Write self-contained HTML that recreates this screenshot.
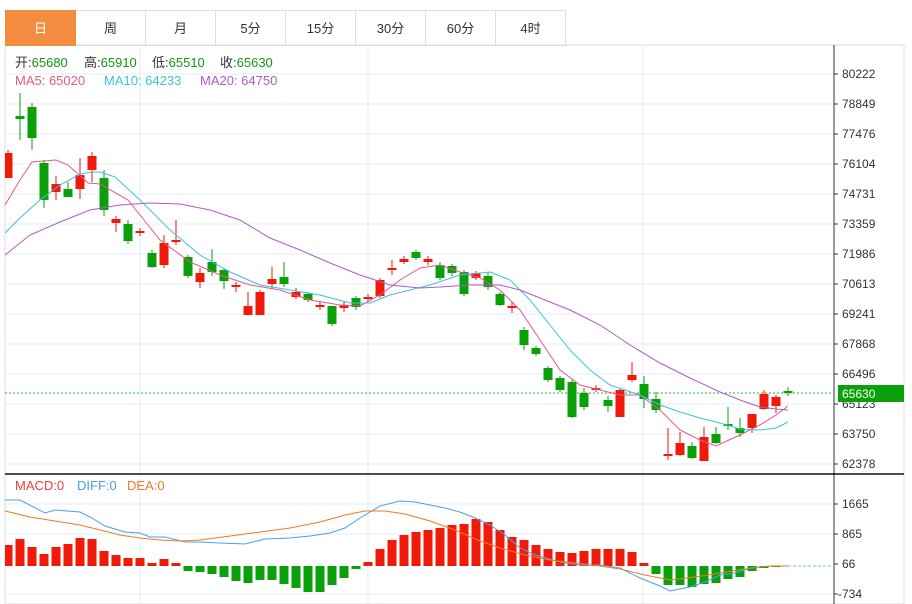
<!DOCTYPE html>
<html><head><meta charset="utf-8"><style>
body{margin:0;background:#fff;width:912px;height:604px;overflow:hidden;font-family:"Liberation Sans","Noto Sans CJK SC",sans-serif}
.tabs{position:absolute;left:5px;top:10px;height:35px;display:flex}
.tabs div{width:69px;height:34px;border:1px solid #ddd;border-left:none;text-align:center;line-height:35px;font-size:13px;color:#333}
.tabs div:first-child{background:#f28c3e;color:#fff;border:1px solid #f28c3e}
</style></head><body>
<div class="tabs"><div>日</div><div>周</div><div>月</div><div>5分</div><div>15分</div><div>30分</div><div>60分</div><div>4时</div></div>
<svg width="912" height="604" style="position:absolute;left:0;top:0;z-index:-1" font-family="Liberation Sans, Noto Sans CJK SC, sans-serif">
<rect x="5" y="45" width="899" height="559" fill="none" stroke="#ddd"/>
<g stroke="#e3ecf4">
<line x1="5" x2="834" y1="74" y2="74"/><line x1="5" x2="834" y1="104" y2="104"/><line x1="5" x2="834" y1="134" y2="134"/><line x1="5" x2="834" y1="164" y2="164"/><line x1="5" x2="834" y1="194" y2="194"/><line x1="5" x2="834" y1="224" y2="224"/><line x1="5" x2="834" y1="254" y2="254"/><line x1="5" x2="834" y1="284" y2="284"/><line x1="5" x2="834" y1="314" y2="314"/><line x1="5" x2="834" y1="344" y2="344"/><line x1="5" x2="834" y1="374" y2="374"/><line x1="5" x2="834" y1="404" y2="404"/><line x1="5" x2="834" y1="434" y2="434"/><line x1="5" x2="834" y1="464" y2="464"/>
<line x1="5" x2="834" y1="504" y2="504"/><line x1="5" x2="834" y1="534" y2="534"/><line x1="5" x2="834" y1="594" y2="594"/>
<line x1="140" x2="140" y1="45" y2="604"/><line x1="368" x2="368" y1="45" y2="604"/><line x1="643" x2="643" y1="45" y2="604"/>
</g>
<line x1="834" x2="834" y1="45" y2="604" stroke="#333"/>
<line x1="5" x2="904" y1="474" y2="474" stroke="#111" stroke-width="1.5"/>
<g font-size="12" fill="#333">
<text x="842" y="78">80222</text><text x="842" y="108">78849</text><text x="842" y="138">77476</text><text x="842" y="168">76104</text><text x="842" y="198">74731</text><text x="842" y="228">73359</text><text x="842" y="258">71986</text><text x="842" y="288">70613</text><text x="842" y="318">69241</text><text x="842" y="348">67868</text><text x="842" y="378">66496</text><text x="842" y="408">65123</text><text x="842" y="438">63750</text><text x="842" y="468">62378</text>
<text x="842" y="508">1665</text><text x="842" y="538">865</text><text x="842" y="568">66</text><text x="838" y="598">-734</text>
</g>
<g stroke="#333"><line x1="834" x2="838" y1="74" y2="74"/><line x1="834" x2="838" y1="104" y2="104"/><line x1="834" x2="838" y1="134" y2="134"/><line x1="834" x2="838" y1="164" y2="164"/><line x1="834" x2="838" y1="194" y2="194"/><line x1="834" x2="838" y1="224" y2="224"/><line x1="834" x2="838" y1="254" y2="254"/><line x1="834" x2="838" y1="284" y2="284"/><line x1="834" x2="838" y1="314" y2="314"/><line x1="834" x2="838" y1="344" y2="344"/><line x1="834" x2="838" y1="374" y2="374"/><line x1="834" x2="838" y1="404" y2="404"/><line x1="834" x2="838" y1="434" y2="434"/><line x1="834" x2="838" y1="464" y2="464"/><line x1="834" x2="838" y1="504" y2="504"/><line x1="834" x2="838" y1="534" y2="534"/><line x1="834" x2="838" y1="564" y2="564"/><line x1="834" x2="838" y1="594" y2="594"/></g>
<line x1="5" x2="834" y1="393" y2="393" stroke="#2bb52b" stroke-dasharray="2,2"/>
<rect x="838" y="385" width="66" height="17" fill="#0aa00a"/><text x="842" y="398" font-size="12" fill="#fff">65630</text>
<line x1="788" x2="834" y1="566" y2="566" stroke="#6bc3e8" stroke-dasharray="3,2"/>
<g font-size="13">
<text x="15" y="67" fill="#333">开:<tspan fill="#119911">65680</tspan></text>
<text x="84" y="67" fill="#333">高:<tspan fill="#119911">65910</tspan></text>
<text x="152" y="67" fill="#333">低:<tspan fill="#119911">65510</tspan></text>
<text x="220" y="67" fill="#333">收:<tspan fill="#119911">65630</tspan></text>
<text x="15" y="85" fill="#e8578a">MA5: 65020</text>
<text x="104" y="85" fill="#3cc3da">MA10: 64233</text>
<text x="200" y="85" fill="#b05ac8">MA20: 64750</text>
<text x="15" y="490" fill="#e84040">MACD:0</text>
<text x="77" y="490" fill="#4aa0ee">DIFF:0</text>
<text x="127" y="490" fill="#f07a20">DEA:0</text>
</g>
<g id="c"></g>
<polyline fill="none" stroke="#e8578a" stroke-width="1" points="5,205 20,180 32,162 56,160 68,165 88,183 100,184 128,200 140,215 160,240 190,262 220,275 250,285 280,290 310,300 340,305 360,306 380,295 400,280 420,268 440,265 460,272 480,278 500,290 520,310 540,340 560,370 580,385 600,390 620,395 640,395 660,410 680,430 700,440 716,446 740,435 760,425 776,415 788,406"/>
<polyline fill="none" stroke="#3cc3da" stroke-width="1" points="5,233 20,218 40,200 60,185 80,174 92,172 100,172 115,177 140,200 170,230 200,255 230,272 260,285 290,290 320,295 350,303 370,303 390,295 410,290 430,285 460,275 490,272 510,280 530,300 550,325 570,350 590,370 610,385 640,395 660,405 680,412 700,418 720,423 740,429 760,430 776,428 788,422"/>
<polyline fill="none" stroke="#b05ac8" stroke-width="1" points="5,255 30,235 60,222 90,210 120,205 150,203 180,204 210,210 240,220 270,238 300,250 330,263 360,275 390,285 420,288 440,287 470,285 500,285 520,290 540,298 570,310 600,325 630,345 660,363 690,378 720,392 740,400 760,407 776,409 788,410"/>
<g id="m"></g>
<polyline fill="none" stroke="#4aa0ee" points="5,500 20,500 45,513 55,510 80,512 92,518 105,526 125,532 140,533 150,537 165,537 185,542 200,542 220,543 245,544 265,539 290,538 310,536 330,533 345,528 360,518 380,506 400,501 415,502 430,505 445,508 460,512 475,518 490,525 505,535 520,548 535,555 560,562 580,565 600,565 620,568 640,578 660,586 670,591 690,587 705,582 720,575 735,573 750,568 770,566 788,566"/>
<polyline fill="none" stroke="#f07a20" points="5,511 30,517 55,521 80,525 100,530 120,535 140,538 160,540 180,541 200,540 230,536 260,532 290,528 320,522 345,515 365,511 385,511 405,514 430,521 455,530 480,541 500,548 525,555 550,560 575,563 600,566 620,569 645,575 670,580 695,577 720,573 745,569 770,566 788,566"/>
</svg>
<script>
var R="#f01a0a",G="#0aa00a";
var d=[[8,153,178,150,178,R],[20,116,119,93,140,G],[32,107,138,103,150,G],[44,163,200,160,208,G],[56,184,192,176,200,R],[68,189,197,182,197,G],[80,175,189,158,199,R],[92,156,170,152,182,R],[104,178,210,170,216,G],[116,219,223,216,232,R],[128,224,241,220,244,G],[140,231,233,228,236,R],[152,253,267,250,268,G],[164,243,265,235,268,R],[176,240,242,220,245,R],[188,257,276,255,278,G],[200,273,282,268,288,R],[212,262,272,249,276,G],[224,270,281,268,289,G],[236,285,287,282,292,R],[248,306,315,292,315,R],[260,292,315,290,315,R],[272,279,284,267,289,R],[284,277,284,262,287,G],[296,292,297,288,299,R],[308,294,300,292,302,G],[320,305,307,302,310,R],[332,306,324,306,326,G],[344,305,308,302,312,R],[356,298,307,296,310,G],[368,297,299,294,302,R],[380,280,296,278,298,R],[392,268,270,260,275,R],[404,259,262,256,264,R],[416,252,258,250,260,G],[428,259,262,256,265,R],[440,265,278,262,280,G],[452,266,273,264,276,G],[464,272,294,270,296,G],[476,273,278,271,280,R],[488,276,287,272,290,G],[500,294,305,292,306,G],[512,306,308,302,313,R],[524,330,345,327,350,G],[536,348,354,346,356,G],[548,368,380,366,382,G],[560,378,390,376,392,G],[572,382,417,380,418,G],[584,393,407,388,410,G],[596,388,390,385,392,R],[608,400,406,396,412,G],[620,390,417,388,417,R],[632,375,380,362,382,R],[644,384,399,376,408,G],[656,399,410,392,413,G],[668,454,456,428,460,R],[680,443,455,432,456,R],[692,446,458,442,459,G],[704,437,461,427,461,R],[716,434,443,427,444,G],[728,424,426,407,430,G],[740,428,433,418,437,G],[752,414,428,414,433,R],[764,394,409,390,410,R],[776,397,406,395,413,R],[788,391,393,387,396,G]];
var h="";
d.forEach(function(a){var x=a[0],bx=Math.max(5,x-4.5);h+='<line x1="'+x+'" x2="'+x+'" y1="'+a[3]+'" y2="'+a[4]+'" stroke="'+a[5]+'"/><rect x="'+bx+'" y="'+a[1]+'" width="'+(x+4.5-bx)+'" height="'+Math.max(2,a[2]-a[1])+'" fill="'+a[5]+'"/>';});
document.getElementById("c").innerHTML=h;
var m=[[8,545],[20,539],[32,547],[44,554],[56,547],[68,544],[80,538],[92,539],[104,551],[116,555],[128,558],[140,558],[152,563],[164,559],[176,563],[188,571],[200,572],[212,574],[224,577],[236,581],[248,583],[260,580],[272,580],[284,584],[296,588],[308,592],[320,592],[332,585],[344,578],[356,569],[368,562],[380,549],[392,540],[404,535],[416,532],[428,530],[440,528],[452,525],[464,524],[476,519],[488,522],[500,530],[512,537],[524,540],[536,545],[548,549],[560,552],[572,553],[584,551],[596,549],[608,549],[620,549],[632,552],[644,563],[656,574],[668,585],[680,585],[692,587],[704,584],[716,583],[728,579],[740,577],[752,571],[764,568],[776,567]];
h="";m.forEach(function(a){var x=a[0],bx=Math.max(5,x-4.5),z=566,y=Math.min(a[1],z),hh=Math.abs(a[1]-z);h+='<rect x="'+bx+'" y="'+y+'" width="'+(x+4.5-bx)+'" height="'+hh+'" fill="'+(a[1]<z?R:G)+'"/>';});
document.getElementById("m").innerHTML=h;
</script>
</body></html>
